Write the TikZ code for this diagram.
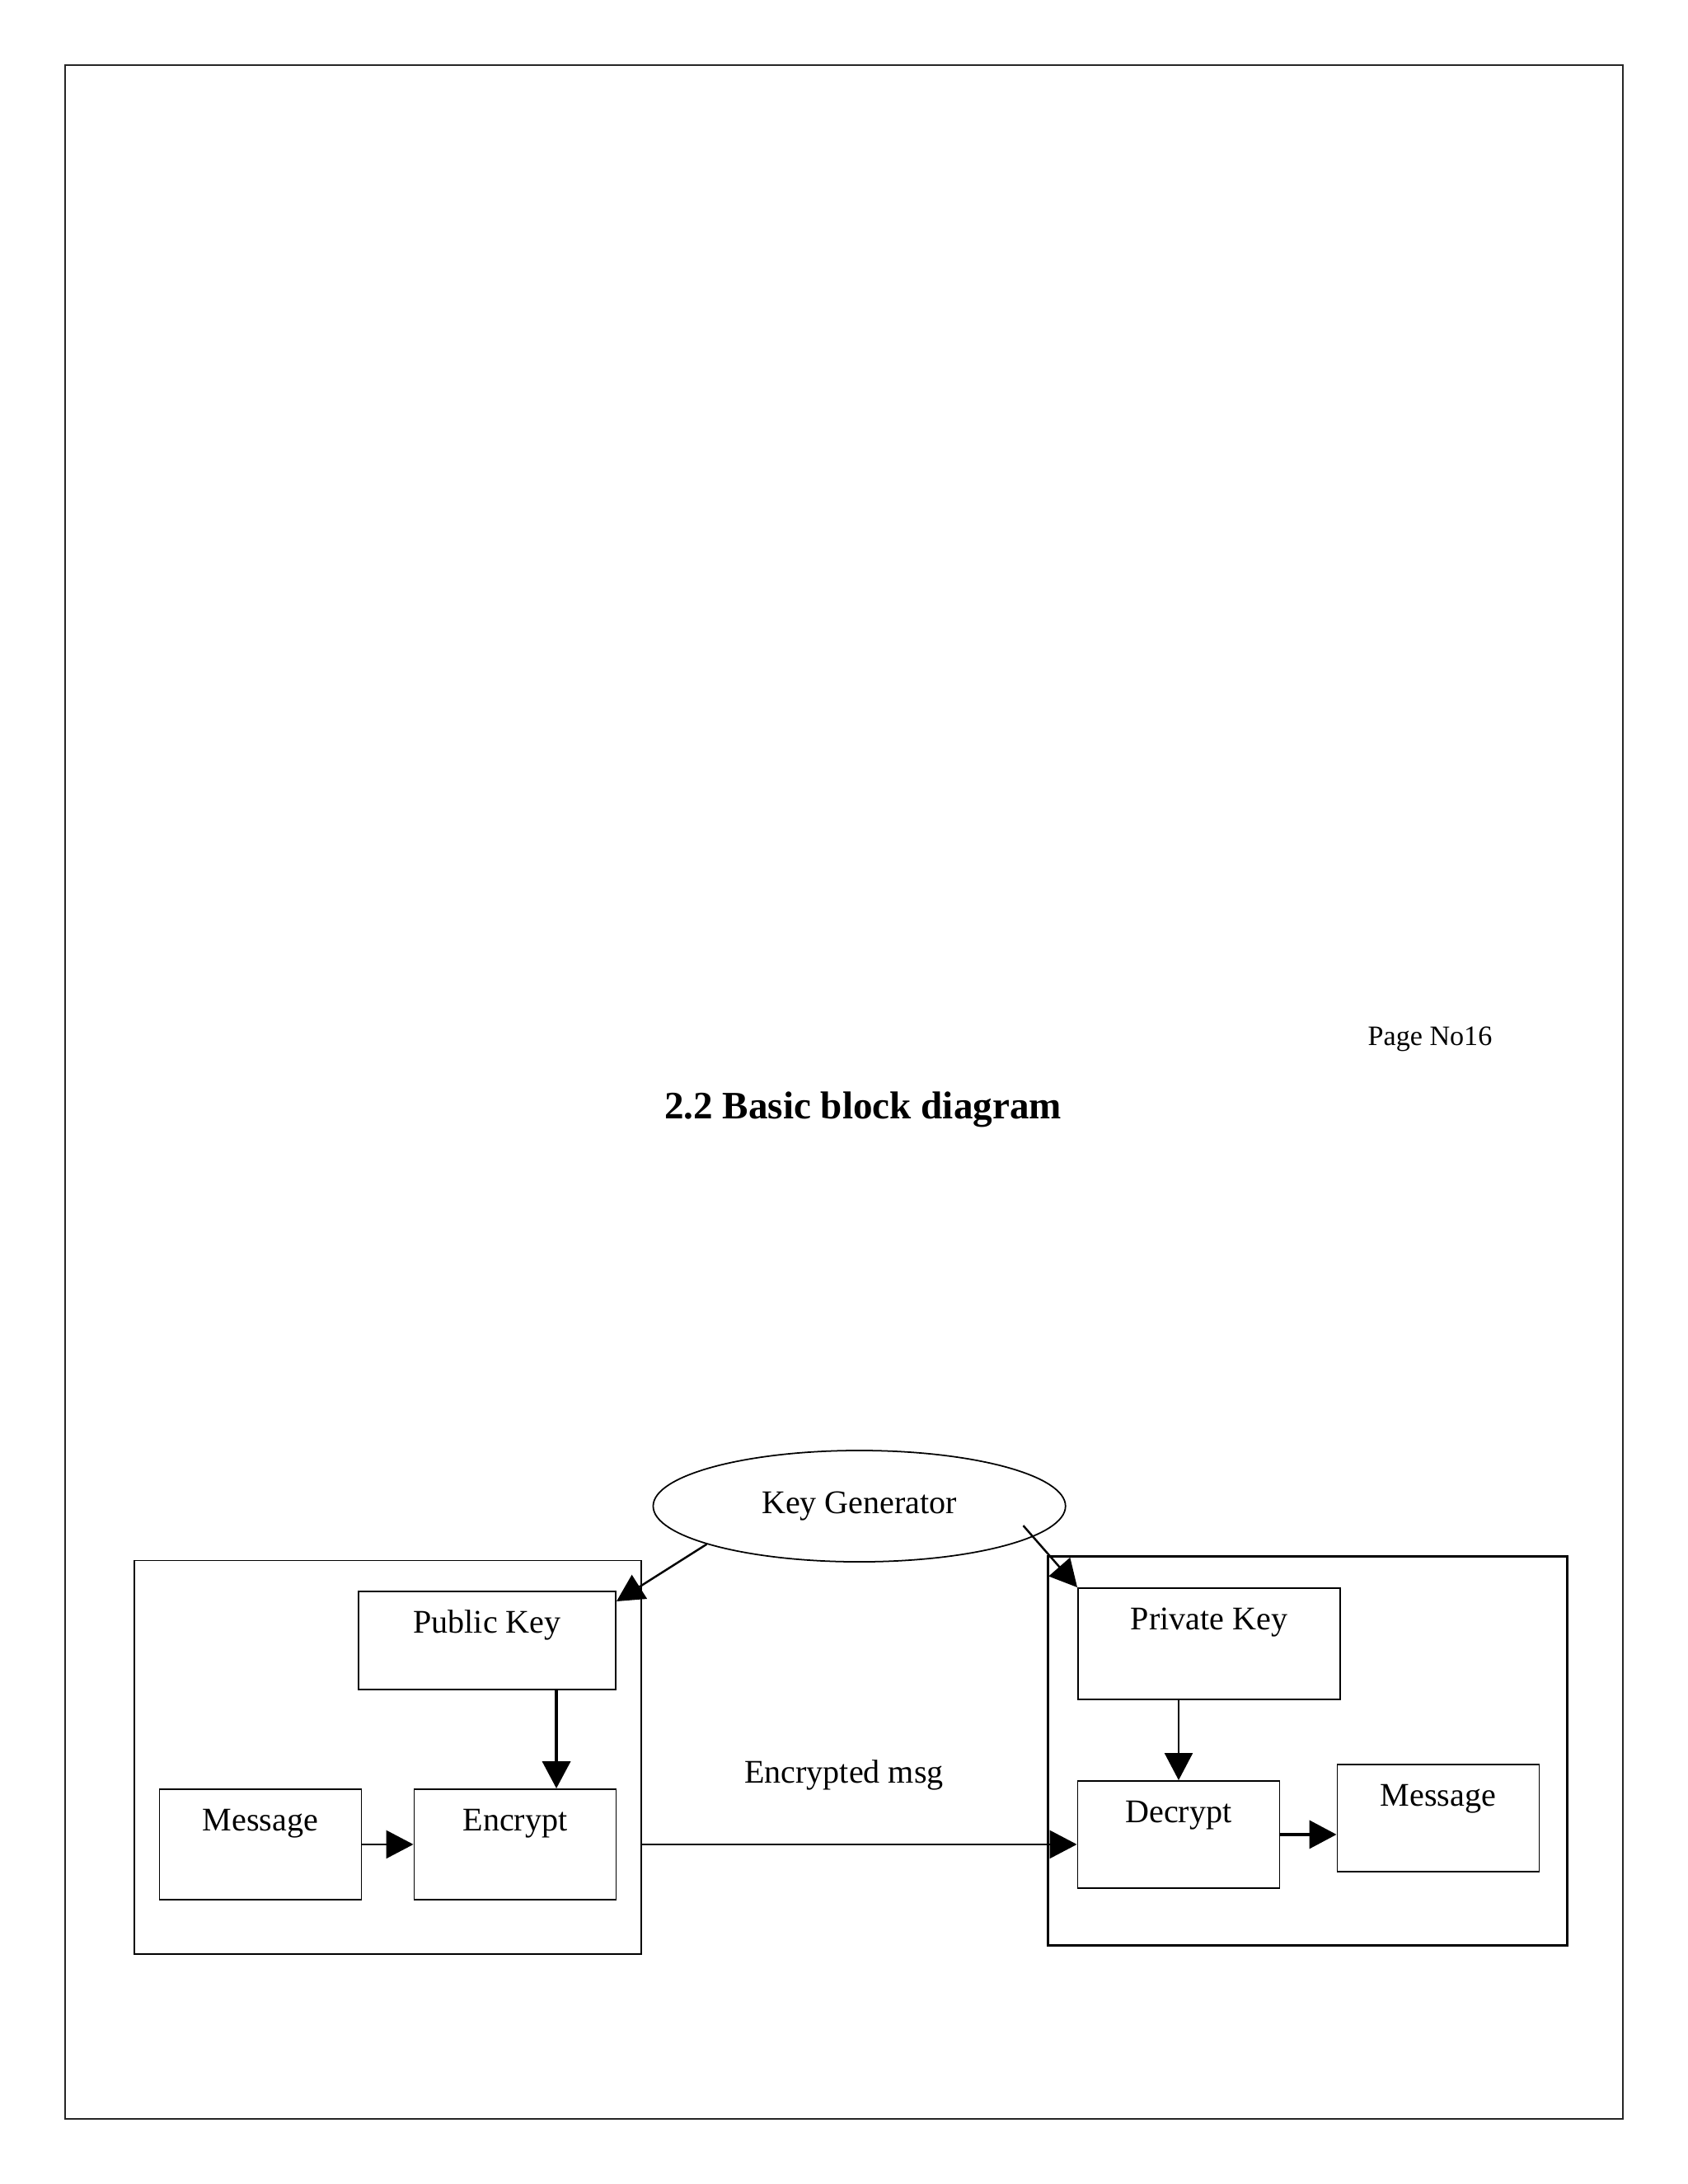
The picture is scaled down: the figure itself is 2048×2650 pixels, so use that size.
\documentclass[tikz,border=0pt]{standalone}
\usepackage{fontspec}
\setmainfont{Liberation Serif}
\usepackage{tikz}
\usetikzlibrary{shapes.geometric,arrows.meta,positioning}

\begin{document}
\begin{tikzpicture}[x=0.01cm,y=-0.01cm,
  font=\fontsize{11.4}{13}\selectfont,
  blk/.style={draw,line width=0.5pt,inner sep=0pt,anchor=north,text height=0.51cm,minimum width=2.45cm},
  grp/.style={draw,line width=0.5pt,inner sep=0pt,anchor=north},
  arr/.style={-{Triangle[length=3.3mm,width=3.4mm]},line width=0.7pt}]
\useasboundingbox (0,0) rectangle (2048,2650);
\draw[line width=0.6pt,black!85] (79,79) rectangle (1969,2571);
\node[anchor=base,font=\fontsize{9.7}{11}\selectfont] (pageno) at (1735,1268) {Page No16};
\node[anchor=base,font=\fontsize{13.4}{15}\selectfont\bfseries] (title) at (1047,1357) {2.2 Basic block diagram};
% sender and receiver frames
\node[grp,minimum width=6.14cm,minimum height=4.77cm] (sender) at (470.5,1892.5) {};
\node[grp,line width=0.9pt,minimum width=6.29cm,minimum height=4.72cm] (receiver) at (1586.5,1886.5) {};
\node[draw,ellipse,line width=0.5pt,inner sep=0pt,minimum width=5.0cm,minimum height=1.35cm] (kg) at (1042.6,1827.5) {Key Generator};
\node[blk,minimum width=3.12cm,text depth=0.68cm] (pub) at (591,1930) {Public Key};
\node[blk,text depth=0.83cm] (msgA) at (316,2170) {Message};
\node[blk,text depth=0.83cm] (enc) at (625,2170) {Encrypt};
\node[blk,minimum width=3.18cm,text depth=0.84cm] (priv) at (1467,1926) {Private Key};
\node[blk,text depth=0.79cm] (dec) at (1430,2160) {Decrypt};
\node[blk,text depth=0.79cm] (msgB) at (1745,2140) {Message};
\node (emsg) at (1024,2154) {Encrypted msg};
% connectors
\draw[arr] (kg.-166) -- ([yshift=-0.13cm]pub.north east);
\draw[arr,shorten <=-0.18cm] (kg.-10) -- (priv.north west);
\draw[arr,line width=1.1pt] ([xshift=0.84cm]pub.south) -- ([xshift=0.84cm]pub.south |- enc.north);
\draw[arr] (msgA.east) -- (enc.west);
\draw[arr] (enc.east -| sender.east) -- (dec.west |- enc.east);
\draw[arr] (dec.north |- priv.south) -- (dec.north);
\draw[arr,line width=1.1pt] (dec.east) -- (dec.east -| msgB.west);
\end{tikzpicture}
\end{document}
